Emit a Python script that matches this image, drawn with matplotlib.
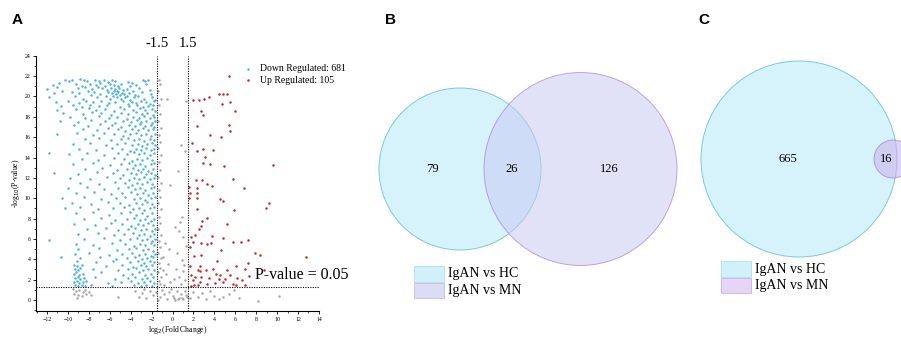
import matplotlib

matplotlib.use("Agg")

import matplotlib.pyplot as plt
from matplotlib.patches import Circle, Rectangle
from matplotlib.ticker import MultipleLocator
import numpy as np

SERIF = "Liberation Serif"
SANS = "Liberation Sans"

BLUE = "#4cb2dd"
RED = "#c0272d"
GRAY = "#a8a8a8"

# volcano plot, points (log2 FC, -log10 p)
DOWN_POINTS = [
    (-10.3, 21.6), (-9.9, 21.5), (-9.6, 21.6), (-8.8, 21.7), (-8.5, 21.6), (-8.2, 21.5), (-7.4, 21.6),
    (-7.0, 21.5), (-6.6, 21.6), (-6.2, 21.4), (-5.8, 21.6), (-5.5, 21.5), (-4.3, 21.4), (-3.9, 21.3),
    (-2.8, 21.6), (-2.6, 21.5), (-2.3, 21.6),
    (-11.4, 21.1), (-10.9, 21.3), (-9.2, 21.2), (-8.7, 21.0), (-7.9, 21.2), (-7.3, 21.1), (-6.9, 21.3),
    (-6.5, 21.0), (-6.0, 21.2), (-5.6, 21.1), (-5.2, 21.0), (-4.9, 21.2), (-4.1, 21.0), (-3.5, 21.1),
    (-2.5, 21.2),
    (-12.0, 20.7), (-11.0, 20.9), (-9.0, 20.8), (-8.4, 20.9), (-7.7, 20.7), (-7.1, 20.9), (-6.7, 20.8),
    (-6.3, 20.6), (-5.9, 20.8), (-5.5, 20.7), (-5.3, 20.5), (-5.1, 20.8), (-4.7, 20.6), (-4.4, 20.7),
    (-3.8, 20.5), (-3.2, 20.8), (-2.2, 20.6),
    (-11.3, 20.3), (-10.6, 20.5), (-9.6, 20.4), (-8.9, 20.3), (-8.1, 20.5), (-7.5, 20.4), (-6.9, 20.2),
    (-6.2, 20.4), (-5.8, 20.3), (-5.6, 20.5), (-5.4, 20.2), (-5.2, 20.4), (-5.0, 20.1), (-4.8, 20.3),
    (-4.6, 20.2), (-4.4, 20.0), (-4.2, 20.3), (-3.6, 20.1), (-2.9, 20.4), (-2.1, 20.2),
    (-11.8, 19.9), (-9.3, 20.0), (-8.6, 19.8), (-7.8, 20.1), (-7.2, 19.9), (-6.4, 20.0), (-6.0, 19.8),
    (-5.7, 20.0), (-5.3, 19.9), (-4.9, 19.8), (-4.5, 19.9), (-4.1, 19.7), (-3.7, 19.9), (-3.3, 20.0),
    (-2.7, 19.8), (-2.0, 19.9), (-1.7, 19.7),
    (-11.1, 19.5), (-10.0, 19.6), (-8.9, 19.4), (-8.3, 19.6), (-7.6, 19.5), (-6.8, 19.6), (-6.1, 19.4),
    (-5.5, 19.5), (-4.7, 19.6), (-4.3, 19.3), (-3.9, 19.5), (-3.5, 19.4), (-3.0, 19.6), (-2.5, 19.5),
    (-2.2, 19.3), (-1.8, 19.6),
    (-10.7, 19.1), (-9.5, 19.2), (-8.7, 19.0), (-7.9, 19.2), (-7.0, 19.1), (-6.3, 19.2), (-5.0, 19.0),
    (-4.2, 19.1), (-3.4, 19.2), (-2.8, 19.0), (-2.3, 19.1), (-1.9, 19.2),
    (-11.0, 18.7), (-9.2, 18.8), (-8.0, 18.9), (-7.3, 18.7), (-6.5, 18.8), (-5.6, 18.6), (-4.6, 18.8),
    (-3.8, 18.7), (-3.1, 18.9), (-2.6, 18.7), (-2.0, 18.8), (-1.7, 18.6),
    (-10.5, 18.4), (-8.6, 18.3), (-7.7, 18.5), (-6.8, 18.4), (-5.9, 18.2), (-4.9, 18.4), (-4.3, 18.3),
    (-3.5, 18.5), (-2.9, 18.3), (-2.4, 18.4), (-1.9, 18.2),
    (-9.8, 18.0), (-8.4, 17.9), (-7.0, 18.1), (-6.1, 17.9), (-5.3, 18.0), (-4.4, 17.8), (-3.8, 18.0),
    (-3.2, 17.9), (-2.7, 18.1), (-2.2, 17.9), (-1.8, 18.0),
    (-10.8, 17.6), (-9.0, 17.5), (-7.8, 17.7), (-6.5, 17.6), (-5.5, 17.4), (-4.7, 17.6), (-4.0, 17.5),
    (-3.4, 17.7), (-3.0, 17.5), (-2.5, 17.6), (-2.0, 17.4), (-1.7, 17.6),
    (-9.4, 17.2), (-8.1, 17.1), (-6.9, 17.3), (-5.8, 17.2), (-4.9, 17.0), (-4.2, 17.2), (-3.6, 17.1),
    (-3.1, 17.3), (-2.6, 17.1), (-2.1, 17.2), (-1.8, 17.0),
    (-8.6, 16.8), (-7.2, 16.7), (-6.2, 16.9), (-5.2, 16.8), (-4.5, 16.6), (-3.9, 16.8), (-3.3, 16.7),
    (-2.8, 16.9), (-2.3, 16.7), (-1.9, 16.8),
    (-11.0, 16.3), (-9.1, 16.4), (-7.6, 16.2), (-6.6, 16.4), (-5.6, 16.3), (-4.7, 16.1), (-4.1, 16.3),
    (-3.5, 16.4), (-3.0, 16.2), (-2.5, 16.3), (-2.1, 16.1), (-1.7, 16.3),
    (-8.4, 15.8), (-7.0, 15.9), (-5.9, 15.7), (-4.9, 15.8), (-4.3, 15.9), (-3.7, 15.7), (-3.2, 15.8),
    (-2.7, 15.6), (-2.2, 15.8), (-1.8, 15.7),
    (-9.5, 15.3), (-7.9, 15.4), (-6.4, 15.2), (-5.3, 15.3), (-4.5, 15.4), (-3.9, 15.2), (-3.3, 15.3),
    (-2.9, 15.1), (-2.4, 15.3), (-2.0, 15.4), (-1.7, 15.2),
    (-8.9, 14.8), (-7.3, 14.7), (-5.8, 14.9), (-4.8, 14.8), (-4.1, 14.6), (-3.5, 14.8), (-3.0, 14.7),
    (-2.5, 14.9), (-2.1, 14.7), (-1.8, 14.8),
    (-11.8, 14.4), (-9.9, 14.3), (-8.2, 14.4), (-6.6, 14.2), (-5.2, 14.4), (-4.4, 14.3), (-3.7, 14.5),
    (-3.2, 14.3), (-2.7, 14.4), (-2.2, 14.2), (-1.8, 14.4),
    (-8.7, 13.9), (-7.1, 13.8), (-5.6, 14.0), (-4.6, 13.9), (-3.9, 13.7), (-3.4, 13.9), (-2.9, 13.8),
    (-2.4, 14.0), (-2.0, 13.8),
    (-9.5, 13.4), (-7.6, 13.5), (-6.0, 13.3), (-4.9, 13.4), (-4.2, 13.5), (-3.6, 13.3), (-3.1, 13.4),
    (-2.6, 13.2), (-2.1, 13.4), (-1.8, 13.5),
    (-8.4, 12.9), (-6.7, 13.0), (-5.3, 12.8), (-4.4, 12.9), (-3.8, 13.0), (-3.3, 12.8), (-2.8, 12.9),
    (-2.3, 12.7), (-1.9, 12.9),
    (-11.3, 12.5), (-9.0, 12.4), (-7.2, 12.6), (-5.7, 12.5), (-4.7, 12.3), (-4.0, 12.5), (-3.5, 12.4),
    (-3.0, 12.6), (-2.5, 12.4), (-2.1, 12.5), (-1.7, 12.3),
    (-9.8, 12.0), (-7.9, 11.9), (-6.3, 12.1), (-5.0, 12.0), (-4.2, 11.8), (-3.7, 12.0), (-3.2, 11.9),
    (-2.7, 12.1), (-2.2, 11.9), (-1.8, 12.0),
    (-8.8, 11.5), (-7.0, 11.4), (-5.5, 11.6), (-4.5, 11.5), (-3.9, 11.3), (-3.4, 11.5), (-2.9, 11.4),
    (-2.4, 11.6), (-2.0, 11.4),
    (-10.0, 11.0), (-8.2, 11.1), (-6.6, 10.9), (-5.2, 11.0), (-4.3, 11.1), (-3.6, 10.9), (-3.1, 11.0),
    (-2.6, 10.8), (-2.1, 11.0), (-1.8, 11.1),
    (-9.2, 10.5), (-7.5, 10.6), (-5.9, 10.4), (-4.8, 10.5), (-4.0, 10.6), (-3.4, 10.4), (-2.8, 10.5),
    (-2.3, 10.3), (-1.9, 10.5),
    (-10.6, 10.0), (-8.5, 10.1), (-6.8, 9.9), (-5.4, 10.0), (-4.5, 10.1), (-3.7, 9.9), (-3.1, 10.0),
    (-2.6, 9.8), (-2.1, 10.0), (-1.7, 10.1),
    (-9.6, 9.5), (-7.8, 9.4), (-6.2, 9.6), (-5.0, 9.5), (-4.2, 9.3), (-3.5, 9.5), (-2.9, 9.4),
    (-2.4, 9.6), (-2.0, 9.4),
    (-10.3, 9.0), (-8.8, 9.1), (-7.1, 8.9), (-5.7, 9.0), (-4.6, 9.1), (-3.8, 8.9), (-3.2, 9.0),
    (-2.7, 8.8), (-2.2, 9.0), (-1.8, 9.1),
    (-9.2, 8.5), (-7.6, 8.6), (-6.1, 8.4), (-4.9, 8.5), (-4.1, 8.6), (-3.5, 8.4), (-2.9, 8.5),
    (-2.4, 8.3), (-2.0, 8.5),
    (-8.5, 8.0), (-6.8, 8.1), (-5.5, 7.9), (-4.4, 8.0), (-3.7, 8.1), (-3.1, 7.9), (-2.6, 8.0),
    (-2.1, 7.8), (-1.8, 8.0),
    (-9.4, 7.5), (-7.4, 7.4), (-5.9, 7.6), (-4.8, 7.5), (-4.0, 7.3), (-3.3, 7.5), (-2.8, 7.4),
    (-2.3, 7.6), (-1.9, 7.4),
    (-8.2, 7.0), (-6.4, 7.1), (-5.2, 6.9), (-4.3, 7.0), (-3.6, 7.1), (-3.0, 6.9), (-2.5, 7.0),
    (-2.0, 6.8), (-1.7, 7.0),
    (-9.0, 6.5), (-7.1, 6.6), (-5.6, 6.4), (-4.6, 6.5), (-3.8, 6.6), (-3.2, 6.4), (-2.7, 6.5),
    (-2.2, 6.3), (-1.8, 6.5),
    (-11.8, 5.9), (-8.5, 6.0), (-6.6, 6.1), (-5.0, 5.9), (-4.1, 6.0), (-3.4, 6.1), (-2.9, 5.9),
    (-2.4, 6.0), (-2.0, 5.8), (-1.7, 6.0),
    (-9.2, 5.5), (-7.6, 5.4), (-5.8, 5.6), (-4.5, 5.5), (-3.7, 5.3), (-3.1, 5.5), (-2.6, 5.4),
    (-2.1, 5.6), (-1.8, 5.4),
    (-9.0, 5.0), (-7.0, 5.1), (-5.3, 4.9), (-4.2, 5.0), (-3.5, 5.1), (-2.8, 4.9), (-2.3, 5.0),
    (-1.9, 4.8),
    (-9.3, 4.5), (-8.0, 4.6), (-6.1, 4.4), (-4.8, 4.5), (-3.9, 4.6), (-3.2, 4.4), (-2.6, 4.5),
    (-2.1, 4.3), (-1.7, 4.5),
    (-10.7, 4.2), (-8.8, 4.1), (-6.9, 4.2), (-5.4, 4.0), (-4.4, 4.1), (-3.6, 4.2), (-2.9, 4.0),
    (-2.4, 4.1), (-1.9, 4.2),
    (-9.1, 3.8), (-7.3, 3.7), (-5.7, 3.8), (-4.1, 3.7), (-3.3, 3.8), (-2.7, 3.6), (-2.2, 3.8),
    (-1.8, 3.7),
    (-9.4, 3.4), (-9.1, 3.3), (-8.7, 3.4), (-6.4, 3.3), (-4.8, 3.4), (-3.8, 3.2), (-3.0, 3.4),
    (-2.5, 3.3), (-2.0, 3.4),
    (-9.3, 3.0), (-9.0, 2.9), (-8.8, 3.1), (-7.6, 3.0), (-5.2, 2.9), (-4.3, 3.0), (-3.5, 3.1),
    (-2.8, 2.9), (-2.3, 3.0), (-1.8, 2.9),
    (-9.4, 2.6), (-9.2, 2.7), (-8.9, 2.5), (-8.6, 2.6), (-6.8, 2.7), (-4.7, 2.5), (-3.9, 2.6),
    (-3.2, 2.7), (-2.6, 2.5), (-2.1, 2.6),
    (-9.3, 2.2), (-9.0, 2.3), (-8.8, 2.1), (-8.5, 2.2), (-7.4, 2.3), (-5.5, 2.1), (-4.3, 2.2),
    (-3.6, 2.3), (-2.9, 2.1), (-2.4, 2.2), (-1.9, 2.3),
    (-9.4, 1.8), (-9.1, 1.9), (-8.9, 1.7), (-8.6, 1.8), (-8.3, 1.9), (-6.2, 1.7), (-4.9, 1.8),
    (-4.0, 1.9), (-3.3, 1.7), (-2.7, 1.8), (-2.2, 1.9), (-1.8, 1.7),
    (-9.3, 1.5), (-9.0, 1.4), (-8.7, 1.5), (-8.4, 1.4), (-7.8, 1.5), (-5.8, 1.4), (-3.7, 1.5),
    (-3.0, 1.4), (-2.5, 1.5), (-2.0, 1.4),
]

UP_POINTS = [
    (5.4, 22.0), (2.0, 19.7), (2.55, 19.65), (3.0, 19.8), (3.5, 19.9), (4.4, 20.2), (4.8, 20.2),
    (5.2, 20.2), (4.7, 19.25), (5.5, 19.5), (6.0, 18.6), (2.7, 18.6), (2.9, 18.2), (2.3, 17.1),
    (5.4, 17.2), (5.5, 16.6), (3.6, 16.2), (4.6, 16.0), (1.85, 15.4), (2.3, 14.6), (2.9, 14.8),
    (3.9, 14.7), (3.1, 14.1), (2.9, 13.5), (3.6, 13.4), (4.9, 13.2), (9.6, 13.3), (5.8, 11.9),
    (2.2, 11.8), (2.8, 11.8), (3.25, 11.4), (3.8, 11.2), (1.6, 11.1), (2.3, 11.0), (6.8, 11.0),
    (1.65, 10.5), (2.3, 10.5), (1.6, 10.0), (2.3, 10.05), (4.5, 9.9), (4.85, 9.7), (9.2, 9.5),
    (8.9, 9.0), (5.85, 8.8), (2.3, 8.9), (3.25, 8.1), (2.8, 7.8), (5.2, 7.5), (2.7, 7.3),
    (2.55, 6.95), (1.75, 6.15), (2.15, 6.4), (3.8, 6.3), (4.8, 6.1), (2.0, 5.7), (2.7, 5.6),
    (3.3, 5.5), (3.7, 5.6), (5.75, 5.7), (7.25, 5.9), (6.5, 5.7), (1.65, 5.2), (2.05, 4.3),
    (2.7, 4.4), (4.6, 4.9), (7.9, 4.65), (8.35, 4.4), (12.8, 4.25), (4.25, 3.8), (7.2, 3.65),
    (2.6, 3.3), (6.05, 3.3), (1.65, 3.3), (2.45, 2.95), (3.2, 2.9), (3.9, 3.0), (5.25, 2.95),
    (6.95, 3.0), (8.7, 2.9), (1.75, 2.45), (2.15, 2.3), (2.75, 2.3), (3.5, 2.15), (4.15, 2.55),
    (4.5, 2.45), (5.5, 2.5), (6.2, 2.2), (7.35, 2.4), (2.6, 1.8), (2.1, 1.5), (3.25, 1.6),
    (4.8, 1.75), (5.8, 1.55), (6.05, 1.5), (6.95, 1.45), (2.45, 1.45), (1.8, 1.4), (4.1, 1.7),
    (4.45, 2.1), (6.6, 2.0), (2.6, 2.8), (5.0, 2.1), (2.0, 1.95),
]

NS_POINTS = [
    (-1.3, 21.6), (-1.2, 21.2), (-1.35, 20.5), (-1.1, 19.8), (-1.3, 19.2), (-1.2, 18.3), (-1.35, 17.6),
    (-1.15, 16.9), (-1.3, 16.2), (-1.2, 15.5), (-1.35, 14.9), (-1.1, 14.2), (-1.3, 13.6), (-1.2, 12.8),
    (-1.35, 12.1), (-1.15, 11.5), (-1.3, 10.8), (-1.2, 10.1), (-1.35, 9.5), (-1.1, 8.9), (-1.3, 8.2),
    (-1.2, 7.6), (-1.35, 7.0), (-1.15, 6.4), (-1.3, 5.8), (-1.2, 5.2), (-1.35, 4.6), (-1.1, 4.1),
    (-1.3, 3.6), (-1.2, 3.1), (-1.35, 2.7), (-1.15, 2.3), (-1.3, 1.9), (-1.2, 1.6), (-0.9, 2.9),
    (-0.5, 19.8), (1.3, 19.6), (0.8, 15.2), (1.2, 14.6), (0.5, 12.7), (-0.2, 11.3), (0.9, 8.2),
    (0.7, 7.7), (0.2, 7.2), (0.6, 6.8), (1.0, 6.2), (-0.7, 5.6), (-0.3, 5.0), (0.4, 4.6),
    (0.9, 3.9), (1.1, 3.4), (0.3, 3.0), (-0.6, 2.6), (0.6, 2.3), (1.2, 2.0), (-0.2, 1.8),
    (0.8, 1.6), (-0.9, 4.2), (1.3, 5.3), (-0.4, 3.5), (0.1, 2.1), (1.0, 2.8), (-0.8, 1.5),
    (-9.5, 1.1), (-9.2, 0.9), (-8.9, 1.0), (-8.6, 0.8), (-8.3, 0.6), (-9.4, 0.6), (-9.0, 0.5),
    (-8.7, 0.4), (-8.4, 1.0), (-8.0, 0.8), (-7.8, 0.5), (-9.1, 0.2),
    (-5.2, 0.3), (-3.6, 0.9), (-3.2, 0.3), (-2.9, 0.7), (-2.5, 0.2), (-2.2, 0.9), (-1.9, 0.5),
    (-1.6, 0.8), (-1.2, 0.3), (-1.0, 1.0), (-0.8, 0.6), (-0.5, 0.1), (-0.3, 0.8), (0.0, 0.4),
    (0.2, 0.0), (0.4, 0.9), (0.6, 0.2), (0.8, 0.6), (1.0, 0.1), (1.2, 0.9), (1.4, 0.3),
    (0.1, 0.2), (0.5, 0.1), (0.9, 0.2), (1.3, 0.5), (-0.1, 1.1), (1.7, 0.2), (2.0, 0.8),
    (2.4, 0.3), (2.8, 0.7), (3.2, 0.1), (3.6, 0.9), (4.0, 0.4), (4.4, 0.1), (4.8, 0.3),
    (5.4, 0.6), (5.9, 1.0), (6.4, 0.2), (8.2, -0.1), (10.2, 0.4), (-2.7, 1.1), (-1.4, 0.0),
]

DOWN_LABEL = "Down Regulated: 681"
UP_LABEL = "Up Regulated: 105"
FC_CUT = 1.5
P_CUT = 0.05

# venn counts
B_ONLY_HC, B_BOTH, B_ONLY_MN = 79, 26, 126
C_ONLY_HC, C_BOTH = 665, 16
VENN_LABELS = ["IgAN vs HC", "IgAN vs MN"]


def draw_volcano(fig):
    ax = fig.add_axes([0.040, 0.080, 0.314, 0.755])
    for pts, color in [(NS_POINTS, GRAY), (DOWN_POINTS, BLUE), (UP_POINTS, RED)]:
        xy = np.array(pts)
        ax.scatter(xy[:, 0], xy[:, 1], s=3.2, color=color, linewidths=0)

    ax.set_xlim(-13.05, 14)
    ax.set_ylim(-1.08, 24)
    ax.xaxis.set_major_locator(MultipleLocator(2))
    ax.xaxis.set_minor_locator(MultipleLocator(1))
    ax.yaxis.set_major_locator(MultipleLocator(2))
    ax.yaxis.set_minor_locator(MultipleLocator(1))
    for side in ["top", "right"]:
        ax.spines[side].set_visible(False)
    for side in ["left", "bottom"]:
        ax.spines[side].set_linewidth(0.8)
    ax.tick_params(which="major", length=2.5, width=0.6, labelsize=4.2, pad=1.5)
    ax.tick_params(which="minor", length=1.5, width=0.5)
    for lab in ax.get_xticklabels() + ax.get_yticklabels():
        lab.set_family(SERIF)

    ax.set_xlabel("log$_2$(Fold Change)", fontsize=5.5, family=SERIF, labelpad=2)
    ax.set_ylabel("-log$_{10}$(P-value)", fontsize=5.5, family=SERIF, labelpad=2)

    y_cut = -np.log10(P_CUT)
    ax.axhline(y_cut, color="black", lw=0.8, ls=(0, (1, 1.2)))
    for xv in (-FC_CUT, FC_CUT):
        ax.plot([xv, xv], [-1.08, 24], color="black", lw=0.8, ls=(0, (1, 1.2)), clip_on=False)
        ax.text(xv, 24.6, f"{xv:g}", ha="center", va="bottom", fontsize=10.5, family=SERIF)
    ax.text(7.9, y_cut + 0.35, "P-value = 0.05", ha="left", va="bottom", fontsize=11.5, family=SERIF)

    ax.scatter([7.2], [22.7], s=3.2, color=BLUE, linewidths=0)
    ax.scatter([7.2], [21.6], s=3.2, color=RED, linewidths=0)
    ax.text(8.35, 22.7, DOWN_LABEL, va="center", fontsize=7, family=SERIF)
    ax.text(8.35, 21.6, UP_LABEL, va="center", fontsize=7, family=SERIF)


def venn_legend(ax, x, y, colors):
    for i, (lab, col) in enumerate(zip(VENN_LABELS, colors)):
        ax.add_patch(Rectangle((x, y + i * 16.5), 30, 15.5, facecolor=col[0], edgecolor=col[1], lw=0.5))
        ax.text(x + 34, y + i * 16.5 + 8, lab, va="center", ha="left", fontsize=10, family=SERIF)


def draw_venns(fig):
    ax = fig.add_axes([0, 0, 1, 1])
    ax.set_xlim(0, 901)
    ax.set_ylim(338, 0)
    ax.axis("off")
    ax.patch.set_alpha(0)

    cyan = ("#d0f1fa", "#a6dbe3")
    lav = ("#dcdcf7", "#c2b0e0")
    pink = ("#e6d6f5", "#c2a8e0")

    # B
    ax.add_patch(Circle((460, 169), 81, facecolor="#d6f3fb", edgecolor="#7fc9d2", lw=0.7))
    ax.add_patch(Circle((580.5, 169), 96.5, facecolor="#cacaf4", edgecolor="#9a63c4", lw=0.7, alpha=0.55))
    ax.text(432, 169, str(B_ONLY_HC), ha="center", va="center", fontsize=9, family=SERIF)
    ax.text(512, 169, str(B_BOTH), ha="center", va="center", fontsize=9, family=SERIF)
    ax.text(609, 169, str(B_ONLY_MN), ha="center", va="center", fontsize=9, family=SERIF)
    venn_legend(ax, 414, 266, [cyan, lav])

    # C
    ax.add_patch(Circle((799, 159), 98, facecolor="#d6f3fb", edgecolor="#7fc9d2", lw=0.7))
    ax.add_patch(Circle((893, 159), 19, facecolor="#c9b0ee", edgecolor="#9a63c4", lw=0.7, alpha=0.55))
    ax.text(788, 159, str(C_ONLY_HC), ha="center", va="center", fontsize=9, family=SERIF)
    ax.text(886, 159, str(C_BOTH), ha="center", va="center", fontsize=9, family=SERIF)
    venn_legend(ax, 721, 261, [cyan, pink])

    for letter, px in [("A", 12), ("B", 385), ("C", 698)]:
        ax.text(px, 20, letter, ha="left", va="center", fontsize=11, fontweight="bold", family=SANS)


fig = plt.figure(figsize=(9.01, 3.38), dpi=100)
draw_volcano(fig)
draw_venns(fig)
fig.savefig("out.png", dpi=100)
